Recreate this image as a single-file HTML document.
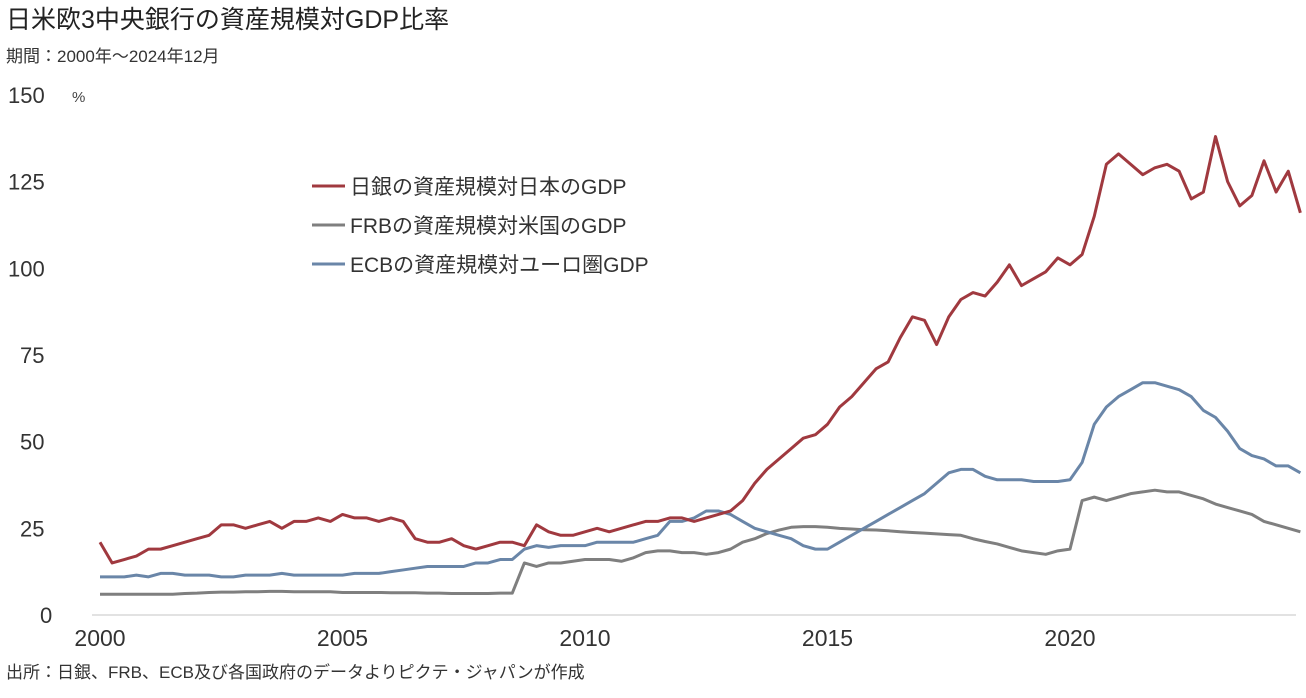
<!DOCTYPE html>
<html><head><meta charset="utf-8">
<style>
html,body{margin:0;padding:0;background:#fff;}
body{width:1306px;height:693px;overflow:hidden;font-family:"Liberation Sans","Noto Sans CJK JP",sans-serif;}
</style></head>
<body>
<svg id="chart" width="1306" height="693" xmlns="http://www.w3.org/2000/svg" font-family="Liberation Sans, Noto Sans CJK JP, sans-serif">
<text x="6" y="28" font-size="25" fill="#222">日米欧3中央銀行の資産規模対GDP比率</text>
<text x="6" y="62" font-size="17" fill="#333">期間：2000年～2024年12月</text>
<text x="72" y="102" font-size="15" fill="#444">%</text>
<line x1="92" y1="615" x2="1296" y2="615" stroke="#d9d9d9" stroke-width="1.5"/>
<g id="yticks"></g><g id="xticks"></g><g id="series"></g>
<g>
<g><line x1="312" y1="186" x2="345" y2="186" stroke="#a0393f" stroke-width="3"/><text x="350" y="194" font-size="21" fill="#333">日銀の資産規模対日本のGDP</text></g>
<g><line x1="312" y1="225" x2="345" y2="225" stroke="#7f7f7f" stroke-width="3"/><text x="350" y="233" font-size="21" fill="#333">FRBの資産規模対米国のGDP</text></g>
<g><line x1="312" y1="264" x2="345" y2="264" stroke="#6a86a8" stroke-width="3"/><text x="350" y="272" font-size="21" fill="#333">ECBの資産規模対ユーロ圏GDP</text></g>
</g>
<text x="6" y="678" font-size="17" fill="#333">出所：日銀、FRB、ECB及び各国政府のデータよりピクテ・ジャパンが作成</text>
</svg>
<script>
const yTicks=[0,25,50,75,100,125,150];
const xTicks=[2000,2005,2010,2015,2020];
const boj=[21,15,16,17,19,19,20,21,22,23,26,26,25,26,27,25,27,27,28,27,29,28,28,27,28,27,22,21,21,22,20,19,20,21,21,20,26,24,23,23,24,25,24,25,26,27,27,28,28,27,28,29,30,33,38,42,45,48,51,52,55,60,63,67,71,73,80,86,85,78,86,91,93,92,96,101,95,97,99,103,101,104,115,130,133,130,127,129,130,128,120,122,138,125,118,121,131,122,128,116];
const frb=[6,6,6,6,6,6,6,6.2,6.3,6.5,6.6,6.6,6.7,6.7,6.8,6.8,6.7,6.7,6.7,6.7,6.5,6.5,6.5,6.5,6.4,6.4,6.4,6.3,6.3,6.2,6.2,6.2,6.2,6.3,6.3,15,14,15,15,15.5,16,16,16,15.5,16.5,18,18.5,18.5,18,18,17.5,18,19,21,22,23.5,24.5,25.3,25.5,25.5,25.3,25,24.8,24.6,24.5,24.3,24,23.8,23.6,23.4,23.2,23,22,21.2,20.5,19.5,18.5,18,17.5,18.5,19,33,34,33,34,35,35.5,36,35.5,35.5,34.5,33.5,32,31,30,29,27,26,25,24];
const ecb=[11,11,11,11.5,11,12,12,11.5,11.5,11.5,11,11,11.5,11.5,11.5,12,11.5,11.5,11.5,11.5,11.5,12,12,12,12.5,13,13.5,14,14,14,14,15,15,16,16,19,20,19.5,20,20,20,21,21,21,21,22,23,27,27,28,30,30,29,27,25,24,23,22,20,19,19,21,23,25,27,29,31,33,35,38,41,42,42,40,39,39,39,38.5,38.5,38.5,39,44,55,60,63,65,67,67,66,65,63,59,57,53,48,46,45,43,43,41];
const ns="http://www.w3.org/2000/svg";
const xS=yr=>100+(yr-2000)*48.5;
const yS=v=>615-v*3.467;
const yt=document.getElementById('yticks');
yTicks.forEach(v=>{const t=document.createElementNS(ns,'text');


t.setAttribute('x',v===0?40:(v>=100?8:20));t.setAttribute('y',yS(v)+8);t.setAttribute('font-size','22');t.setAttribute('fill','#333');t.textContent=v;yt.appendChild(t);});
const xt=document.getElementById('xticks');
xTicks.forEach(v=>{const t=document.createElementNS(ns,'text');


t.setAttribute('x',xS(v));t.setAttribute('y',646);t.setAttribute('text-anchor','middle');t.setAttribute('font-size','23');t.setAttribute('fill','#333');t.textContent=v;xt.appendChild(t);});
const sg=document.getElementById('series');
[[frb,'#7f7f7f','frb-line'],[ecb,'#6a86a8','ecb-line'],[boj,'#a0393f','boj-line']].forEach(([d,c,n])=>{
const p=document.createElementNS(ns,'polyline');


p.setAttribute('points',d.map((v,i)=>xS(2000+i/4)+','+yS(v)).join(' '));
p.setAttribute('fill','none');p.setAttribute('stroke',c);p.setAttribute('stroke-width','3');p.setAttribute('stroke-linejoin','round');sg.appendChild(p);});
</script>
</body></html>
